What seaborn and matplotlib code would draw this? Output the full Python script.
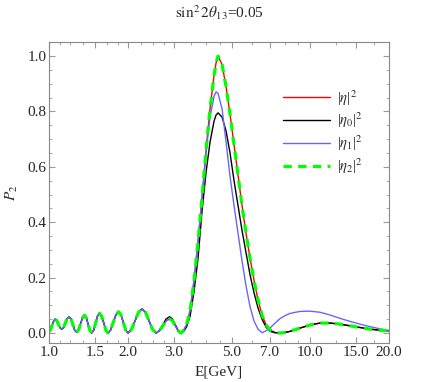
import matplotlib
matplotlib.use('Agg')
import matplotlib.pyplot as plt
import matplotlib.ticker as mticker
import seaborn as sns
import pandas as pd

# Energy grid [GeV]
energy = [1.000, 1.0133, 1.0268, 1.0404, 1.0543, 1.0702, 1.0854, 1.1018, 1.1184, 1.1363,
          1.1544, 1.1729, 1.1927, 1.2128, 1.2333, 1.2541, 1.2764, 1.2991, 1.3210, 1.3434,
          1.3672, 1.3891, 1.4113, 1.4338, 1.4568, 1.4826, 1.5077, 1.5331, 1.5604, 1.5895,
          1.6206, 1.6509, 1.6817, 1.7207, 1.7621, 1.8029, 1.8447, 1.8841, 1.9244, 1.9638,
          2.0058, 2.0686, 2.1334, 2.2002, 2.2691, 2.3402, 2.4135, 2.4890, 2.5670, 2.6450,
          2.7255, 2.8059, 2.8912, 2.9660, 3.0428, 3.1188,
          3.1995, 3.2852, 3.3584, 3.4636, 3.5878, 3.7165, 3.8498, 3.9879, 4.1309, 4.2791,
          4.3552, 4.4326, 4.5917, 4.7563, 4.9269, 5.1036, 5.2867, 5.4763, 5.6728, 5.8762,
          6.0870, 6.3053, 6.5315, 6.7657, 7.0084, 7.3240, 7.6539, 7.9986, 8.3588, 9.1287,
          9.9696, 10.888, 11.891, 12.986, 14.182, 15.488, 16.915, 18.473, 20.0]

# |eta|^2 (red) - full result
eta = [0.005, 0.012, 0.027, 0.042, 0.050, 0.046, 0.032, 0.019, 0.014, 0.019,
       0.036, 0.052, 0.058, 0.052, 0.031, 0.010, 0.003, 0.012, 0.034, 0.055,
       0.064, 0.055, 0.032, 0.009, 0.000, 0.010, 0.036, 0.061, 0.071, 0.061,
       0.036, 0.010, 0.000, 0.011, 0.039, 0.066, 0.077, 0.066, 0.039, 0.011,
       0.000, 0.013, 0.044, 0.075, 0.087, 0.075, 0.044, 0.013, 0.000, 0.008,
       0.026, 0.044, 0.051, 0.044, 0.026, 0.008,
       0.000, 0.012, 0.030, 0.080, 0.190, 0.330, 0.490, 0.660, 0.810, 0.930,
       0.975, 1.000, 0.970, 0.890, 0.790, 0.680, 0.570, 0.460, 0.360, 0.270,
       0.190, 0.120, 0.065, 0.030, 0.011, 0.002, 0.000, 0.002, 0.006, 0.018,
       0.029, 0.036, 0.036, 0.032, 0.026, 0.020, 0.014, 0.010, 0.008]

# |eta_0|^2 (black)
eta0 = [0.005, 0.012, 0.027, 0.042, 0.050, 0.046, 0.032, 0.019, 0.014, 0.019,
        0.036, 0.052, 0.058, 0.052, 0.031, 0.010, 0.003, 0.012, 0.034, 0.055,
        0.064, 0.055, 0.032, 0.009, 0.000, 0.010, 0.036, 0.061, 0.071, 0.061,
        0.036, 0.010, 0.000, 0.011, 0.039, 0.066, 0.077, 0.066, 0.039, 0.011,
        0.000, 0.013, 0.044, 0.075, 0.087, 0.075, 0.044, 0.013, 0.000, 0.009,
        0.030, 0.051, 0.059, 0.051, 0.030, 0.009,
        0.000, 0.008, 0.022, 0.060, 0.150, 0.270, 0.440, 0.580, 0.690, 0.765,
        0.787, 0.795, 0.780, 0.730, 0.650, 0.550, 0.460, 0.370, 0.290, 0.210,
        0.145, 0.090, 0.050, 0.021, 0.006, 0.001, 0.000, 0.002, 0.006, 0.018,
        0.029, 0.036, 0.036, 0.032, 0.026, 0.020, 0.014, 0.010, 0.008]

# |eta_1|^2 (blue)
eta1 = [0.005, 0.012, 0.027, 0.042, 0.050, 0.046, 0.032, 0.019, 0.014, 0.019,
        0.036, 0.052, 0.058, 0.052, 0.031, 0.010, 0.003, 0.012, 0.034, 0.055,
        0.064, 0.055, 0.032, 0.009, 0.000, 0.010, 0.036, 0.061, 0.071, 0.061,
        0.036, 0.010, 0.000, 0.011, 0.039, 0.066, 0.077, 0.066, 0.039, 0.011,
        0.000, 0.013, 0.044, 0.075, 0.087, 0.075, 0.044, 0.013, 0.000, 0.008,
        0.026, 0.044, 0.051, 0.044, 0.026, 0.008,
        0.000, 0.012, 0.030, 0.080, 0.190, 0.330, 0.490, 0.650, 0.780, 0.855,
        0.871, 0.865, 0.810, 0.690, 0.565, 0.460, 0.360, 0.260, 0.170, 0.095,
        0.043, 0.014, 0.001, 0.008, 0.018, 0.036, 0.052, 0.063, 0.071, 0.078,
        0.079, 0.075, 0.065, 0.053, 0.042, 0.032, 0.023, 0.015, 0.009]

# |eta_2|^2 (green dashed) - lies on top of the red curve
eta2 = [0.005, 0.012, 0.027, 0.042, 0.050, 0.046, 0.032, 0.019, 0.014, 0.019,
        0.036, 0.052, 0.058, 0.052, 0.031, 0.010, 0.003, 0.012, 0.034, 0.055,
        0.064, 0.055, 0.032, 0.009, 0.000, 0.010, 0.036, 0.061, 0.071, 0.061,
        0.036, 0.010, 0.000, 0.011, 0.039, 0.066, 0.077, 0.066, 0.039, 0.011,
        0.000, 0.013, 0.044, 0.075, 0.087, 0.075, 0.044, 0.013, 0.000, 0.008,
        0.026, 0.044, 0.051, 0.044, 0.026, 0.008,
        0.000, 0.012, 0.030, 0.080, 0.190, 0.330, 0.490, 0.660, 0.810, 0.930,
        0.975, 1.000, 0.970, 0.890, 0.790, 0.680, 0.570, 0.460, 0.360, 0.270,
        0.190, 0.120, 0.065, 0.030, 0.011, 0.002, 0.000, 0.002, 0.006, 0.018,
        0.029, 0.036, 0.036, 0.032, 0.026, 0.020, 0.014, 0.010, 0.008]

xticks = [1.0, 1.5, 2.0, 3.0, 5.0, 7.0, 10.0, 15.0, 20.0]
xtick_labels = ['1.0', '1.5', '2.0', '3.0', '5.0', '7.0', '10.0', '15.0', '20.0']
xminor = [1.1, 1.2, 1.35, 1.67, 1.83, 2.25, 2.5, 2.75, 3.5, 4.0, 4.5, 6.0, 8.0, 9.0, 12.5, 17.5]

sns.set_style('ticks')
plt.rcParams['font.family'] = ['Liberation Serif', 'DejaVu Serif']
plt.rcParams['mathtext.fontset'] = 'stix'

df = pd.DataFrame({'E': energy, 'eta': eta, 'eta0': eta0, 'eta1': eta1, 'eta2': eta2})

fig = plt.figure(figsize=(4.36, 3.82), dpi=100)
ax = fig.add_axes([0.1124, 0.1021, 0.78, 0.7887])

sns.lineplot(data=df, x='E', y='eta', ax=ax, color='#ff0000', lw=1.0, label=r'|$\eta$|$^2$')
sns.lineplot(data=df, x='E', y='eta0', ax=ax, color='#000000', lw=1.0, label=r'|$\eta_0$|$^2$')
sns.lineplot(data=df, x='E', y='eta1', ax=ax, color='#6666ff', lw=1.0, label=r'|$\eta_1$|$^2$')
sns.lineplot(data=df, x='E', y='eta2', ax=ax, color='#00ff00', lw=2.3, label=r'|$\eta_2$|$^2$',
             dashes=False, linestyle=(0, (2.6, 2.0)))

ax.set_xscale('log')
ax.set_xlim(1.0, 20.0)
ax.set_ylim(-0.036, 1.052)
ax.xaxis.set_major_locator(mticker.FixedLocator(xticks))
ax.xaxis.set_major_formatter(mticker.FixedFormatter(xtick_labels))
ax.xaxis.set_minor_locator(mticker.FixedLocator(xminor))
ax.xaxis.set_minor_formatter(mticker.NullFormatter())
ax.yaxis.set_major_locator(mticker.MultipleLocator(0.2))
ax.yaxis.set_minor_locator(mticker.MultipleLocator(0.05))
ax.yaxis.set_major_formatter(mticker.FormatStrFormatter('%.1f'))

ax.tick_params(which='both', direction='in', top=True, right=True, color='#999999',
               labelsize=11, pad=2)
ax.tick_params(which='major', length=4, width=0.8)
ax.tick_params(which='minor', length=2, width=0.6)
for sp in ax.spines.values():
    sp.set_color('#888888')
    sp.set_linewidth(0.8)

ax.set_title(r'$\sin^2 2\theta_{13}$=0.05', fontsize=11, pad=17)
ax.set_xlabel('E[GeV]', fontsize=11, labelpad=5)
ax.set_ylabel(r'$P_2$', fontsize=11, labelpad=5)

ax.legend(loc='upper left', bbox_to_anchor=(0.65, 0.89), frameon=False, fontsize=10.5,
          handlelength=3.2, handletextpad=0.5, labelspacing=0.22)

plt.savefig('out.png', dpi=100)
